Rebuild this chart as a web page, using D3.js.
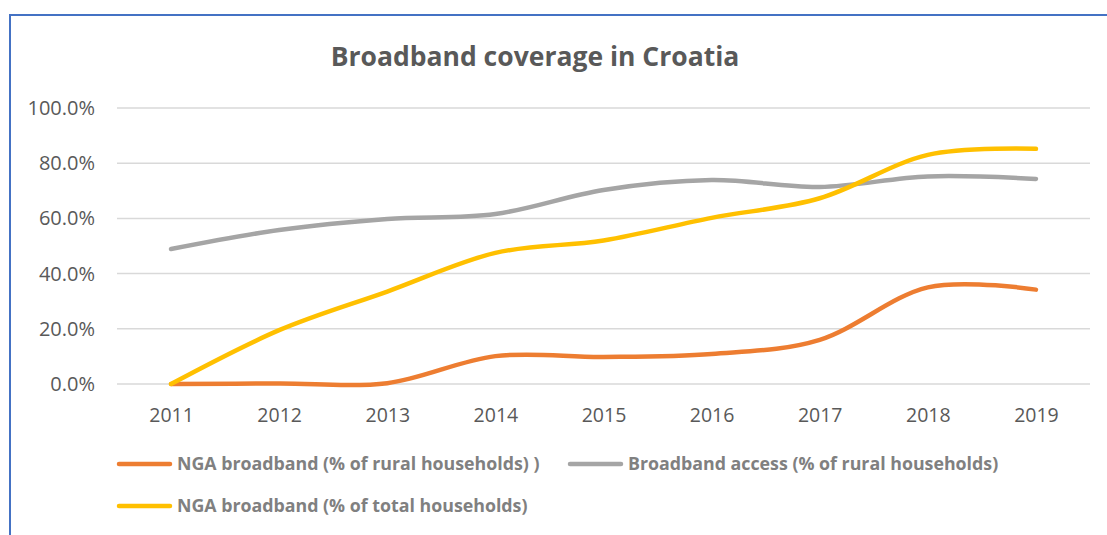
<!DOCTYPE html>
<html>
<head>
<meta charset="utf-8">
<script src="https://cdn.jsdelivr.net/npm/d3@7/dist/d3.min.js"></script>
<style>
  body { margin: 0; background: #fff; }
  svg { display: block; font-family: "Open Sans", "Liberation Sans", sans-serif; }
</style>
</head>
<body>
<div id="viz"></div>
<script>
const years = ["2011", "2012", "2013", "2014", "2015", "2016", "2017", "2018", "2019"];
const ngaRural = [0, 0.2, 0.3, 10.1, 9.8, 10.9, 16, 35, 34.2];
const broadbandRural = [48.9, 55.8, 59.8, 61.6, 70.3, 73.9, 71.4, 75.2, 74.3];
const ngaTotal = [0, 19.5, 33.5, 47.5, 52, 60.2, 67.3, 83, 85.2];
const yTicks = [0, 20, 40, 60, 80, 100];

const series = [
  { name: "NGA broadband (% of rural households) )", values: ngaRural, color: "#ED7D31" },
  { name: "Broadband access (% of rural households)", values: broadbandRural, color: "#A5A5A5" },
  { name: "NGA broadband (% of total households)", values: ngaTotal, color: "#FFC000" }
];

const width = 1107, height = 535;
const margin = { top: 108, right: 17, bottom: 151, left: 117 };

const svg = d3.select("#viz").append("svg")
  .attr("width", width)
  .attr("height", height);

// outer frame (only top and left edges visible)
svg.append("path")
  .attr("d", `M10,${height + 5} L10,15 L${width + 5},15`)
  .attr("fill", "none")
  .attr("stroke", "#4472C4")
  .attr("stroke-width", 2);

svg.append("text")
  .attr("x", 535)
  .attr("y", 66)
  .attr("text-anchor", "middle")
  .attr("font-size", "26.5px")
  .attr("font-weight", "bold")
  .attr("fill", "#595959")
  .text("Broadband coverage in Croatia");

const x = d3.scalePoint()
  .domain(years)
  .range([margin.left, width - margin.right])
  .padding(0.5);

const y = d3.scaleLinear()
  .domain([0, 100])
  .range([height - margin.bottom, margin.top]);

// gridlines
svg.append("g")
  .selectAll("line")
  .data(yTicks)
  .join("line")
  .attr("x1", margin.left)
  .attr("x2", width - margin.right)
  .attr("y1", d => y(d))
  .attr("y2", d => y(d))
  .attr("stroke", "#D9D9D9")
  .attr("stroke-width", 1.5);

// y axis labels
const yAxis = svg.append("g")
  .attr("transform", `translate(${margin.left - 22},0)`)
  .call(d3.axisLeft(y).tickValues(yTicks).tickSize(0).tickPadding(0).tickFormat(d => d.toFixed(1) + "%"));
yAxis.select(".domain").remove();
yAxis.selectAll("text")
  .attr("font-size", "20px")
  .attr("font-family", "Open Sans, sans-serif")
  .attr("fill", "#595959");

// x axis labels
const xAxis = svg.append("g")
  .attr("transform", `translate(0,${height - margin.bottom + 24})`)
  .call(d3.axisBottom(x).tickSize(0).tickPadding(0));
xAxis.select(".domain").remove();
xAxis.selectAll("text")
  .attr("font-size", "19.5px")
  .attr("font-family", "Open Sans, sans-serif")
  .attr("fill", "#595959");

const line = d3.line()
  .x((d, i) => x(years[i]))
  .y(d => y(d))
  .curve(d3.curveCatmullRom.alpha(0));

// draw gray first, then orange, then yellow on top
[series[1], series[0], series[2]].forEach(s => {
  svg.append("path")
    .datum(s.values)
    .attr("fill", "none")
    .attr("stroke", s.color)
    .attr("stroke-width", 4.5)
    .attr("stroke-linecap", "round")
    .attr("stroke-linejoin", "round")
    .attr("d", line);
});

// legend
const legendPos = [
  { x: 117, y: 464 },
  { x: 568, y: 464 },
  { x: 117, y: 506 }
];
series.forEach((s, i) => {
  const g = svg.append("g").attr("transform", `translate(${legendPos[i].x},${legendPos[i].y})`);
  g.append("line")
    .attr("x1", 2).attr("x2", 53)
    .attr("stroke", s.color)
    .attr("stroke-width", 4.5)
    .attr("stroke-linecap", "round");
  g.append("text")
    .attr("x", 60)
    .attr("dy", "0.35em")
    .attr("font-size", "17.8px")
    .attr("font-weight", "bold")
    .attr("fill", "#808080")
    .text(s.name);
});
</script>
</body>
</html>
